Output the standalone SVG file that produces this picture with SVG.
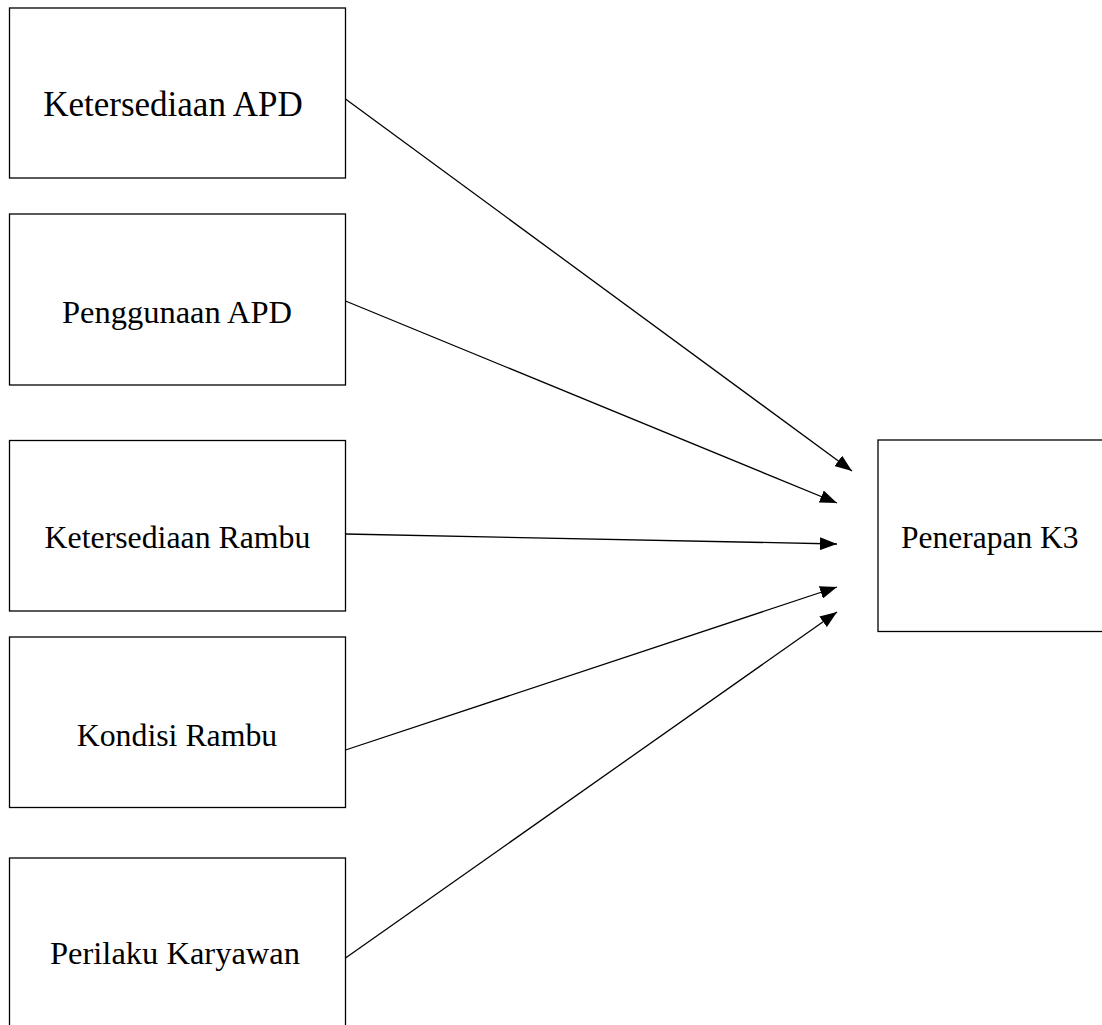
<svg xmlns="http://www.w3.org/2000/svg" width="1102" height="1025" viewBox="0 0 1102 1025">
<style>
.box{fill:#fff;stroke:#000;stroke-width:1.3}
.lbl{font-family:"Liberation Serif","Times New Roman",serif;font-size:31.5px;fill:#000}
.c{text-anchor:middle}
.edge{stroke:#000;stroke-width:1.3;fill:none;marker-end:url(#ah)}
</style>
<defs>
<marker id="ah" markerWidth="17" markerHeight="13" refX="17" refY="6.5" orient="auto" markerUnits="userSpaceOnUse">
<path d="M0,0 L17,6.5 L0,13 Z" fill="#000"/>
</marker>
</defs>
<rect width="1102" height="1025" fill="#fff"/>
<g id="n1"><rect class="box" x="9.5" y="8" width="336" height="170"/><text class="lbl c" x="173" y="116" style="font-size:35px">Ketersediaan APD</text></g>
<g id="n2"><rect class="box" x="9.5" y="214" width="336" height="171"/><text class="lbl c" x="177" y="323" style="font-size:32.5px">Penggunaan APD</text></g>
<g id="n3"><rect class="box" x="9.5" y="440.5" width="336" height="170.5"/><text class="lbl c" x="177.5" y="548" style="font-size:31.8px">Ketersediaan Rambu</text></g>
<g id="n4"><rect class="box" x="9.5" y="637" width="336" height="170.5"/><text class="lbl c" x="177" y="746" style="font-size:31.8px">Kondisi Rambu</text></g>
<g id="n5"><rect class="box" x="9.5" y="858" width="336" height="180"/><text class="lbl c" x="175" y="964" style="font-size:32.5px">Perilaku Karyawan</text></g>
<g id="n6"><rect class="box" x="878" y="440" width="240" height="191.5"/><text class="lbl" x="901" y="548">Penerapan K3</text></g>
<g id="edges">
<line class="edge" x1="345.5" y1="99" x2="852" y2="471"/>
<line class="edge" x1="345.5" y1="301" x2="837" y2="503"/>
<line class="edge" x1="345.5" y1="534" x2="837" y2="544"/>
<line class="edge" x1="345.5" y1="750" x2="837" y2="587"/>
<line class="edge" x1="345.5" y1="958" x2="837" y2="612"/>
</g>
</svg>
